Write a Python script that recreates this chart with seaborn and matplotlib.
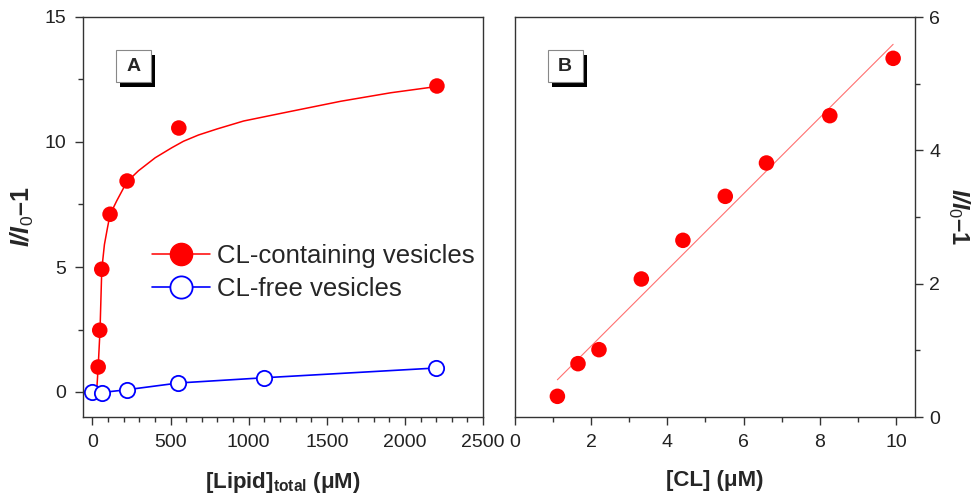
import numpy as np
import pandas as pd
import matplotlib
matplotlib.use('Agg')
import matplotlib.pyplot as plt
import seaborn as sns
from matplotlib.lines import Line2D
from matplotlib.patches import Rectangle
from matplotlib.ticker import MultipleLocator

# panel A: binding data
lipid_cl = [37, 47, 60, 113, 222, 553, 2205]
ratio_cl = [1.0, 2.47, 4.91, 7.11, 8.44, 10.56, 12.24]
lipid_free = [0, 60, 220, 550, 1100, 2200]
ratio_free = [0.0, -0.02, 0.09, 0.36, 0.57, 0.96]

# fitted curve for CL-containing vesicles
fit_x = [27, 37, 49, 60, 77, 96, 113, 156, 220, 295, 402, 508, 583, 679, 797, 968, 1226, 1590, 1910, 2205]
fit_y = [0.0, 1.0, 2.5, 4.9, 5.9, 6.55, 7.1, 7.65, 8.4, 8.85, 9.37, 9.77, 10.03, 10.28, 10.52, 10.84, 11.17, 11.63, 11.97, 12.22]

# panel B: vs [CL]
cl = [1.12, 1.66, 2.21, 3.32, 4.41, 5.52, 6.60, 8.26, 9.92]
ratio_b = [0.31, 0.80, 1.01, 2.07, 2.65, 3.31, 3.81, 4.52, 5.38]

sns.set_style('ticks')
plt.rcParams['font.family'] = ['Liberation Sans', 'DejaVu Sans']
plt.rcParams['mathtext.fontset'] = 'custom'
plt.rcParams['mathtext.rm'] = 'Liberation Sans'
plt.rcParams['mathtext.it'] = 'Liberation Sans:italic'
plt.rcParams['mathtext.bf'] = 'Liberation Sans:bold'
plt.rcParams['mathtext.bfit'] = 'Liberation Sans:bold:italic'

fig = plt.figure(figsize=(9.79, 5), dpi=100)
ax1 = fig.add_axes([0.0848, 0.166, 0.4086, 0.8])
ax2 = fig.add_axes([0.5257, 0.166, 0.4092, 0.8])

red = '#ff0000'
blue = '#0000ff'
ylab = '$\\mathbfit{I/I}_{0}\\mathbf{\u20131}$'

# ---- A
sns.lineplot(x=fit_x, y=fit_y, ax=ax1, color=red, lw=1.1, sort=False, estimator=None)
sns.scatterplot(x=lipid_cl, y=ratio_cl, ax=ax1, color=red, s=125, edgecolor='none', zorder=3)
sns.lineplot(x=lipid_free, y=ratio_free, ax=ax1, color=blue, lw=1.2, marker='o', markersize=11,
             markerfacecolor='white', markeredgecolor=blue, markeredgewidth=1.3, sort=False, estimator=None)

ax1.set_xlim(-60, 2500)
ax1.set_ylim(-1, 15)
ax1.xaxis.set_major_locator(MultipleLocator(500))
ax1.xaxis.set_minor_locator(MultipleLocator(100))
ax1.yaxis.set_major_locator(MultipleLocator(5))
ax1.yaxis.set_minor_locator(MultipleLocator(2.5))
ax1.set_xlabel('[Lipid]$_{\\mathbf{total}}$ (μM)', fontsize=16, fontweight='bold', labelpad=14)
ax1.set_ylabel(ylab, fontsize=18, labelpad=6)

handles = [
    Line2D([], [], color=red, lw=1.1, marker='o', markersize=16, markerfacecolor=red, markeredgecolor=red),
    Line2D([], [], color=blue, lw=1.2, marker='o', markersize=16, markerfacecolor='white',
           markeredgecolor=blue, markeredgewidth=1.3),
]
ax1.legend(handles, ['CL-containing vesicles', 'CL-free vesicles'], loc='upper left',
           bbox_to_anchor=(0.14, 0.465), frameon=False, fontsize=18.5, borderpad=0,
           handlelength=2.25, handletextpad=0.3, labelspacing=0.35)

# ---- B
sns.regplot(x=cl, y=ratio_b, ax=ax2, ci=None, color=red,
            scatter_kws={'s': 125, 'edgecolor': 'none', 'alpha': 1, 'zorder': 3},
            line_kws={'lw': 0.8, 'color': '#ff7070'})
ax2.set_xlim(0, 10.5)
ax2.set_ylim(0, 6)
ax2.xaxis.set_major_locator(MultipleLocator(2))
ax2.xaxis.set_minor_locator(MultipleLocator(1))
ax2.yaxis.set_major_locator(MultipleLocator(2))
ax2.yaxis.set_minor_locator(MultipleLocator(1))
ax2.yaxis.tick_right()
ax2.yaxis.set_label_position('right')
ax2.set_xlabel('[CL] (μM)', fontsize=16, fontweight='bold', labelpad=14)

for ax in (ax1, ax2):
    for sp in ax.spines.values():
        sp.set_visible(True)
        sp.set_color('#333333')
        sp.set_linewidth(1.0)
    ax.tick_params(which='major', length=6, width=1, color='#333333', labelsize=14, labelcolor='#222222', pad=6)
    ax.tick_params(which='minor', length=3.5, width=1, color='#333333')
ax2.tick_params(axis='y', which='major', pad=4)
ax2.set_ylabel(ylab, fontsize=17, rotation=270, va='bottom', labelpad=4)

# panel tags with shadow
for ax, tag in ((ax1, 'A'), (ax2, 'B')):
    ax.add_patch(Rectangle((0.0925, 0.825), 0.0875, 0.08, transform=ax.transAxes,
                           facecolor='black', edgecolor='none', zorder=5))
    ax.add_patch(Rectangle((0.0825, 0.8375), 0.0875, 0.08, transform=ax.transAxes,
                           facecolor='white', edgecolor='#888888', lw=0.8, zorder=6))
    ax.text(0.126, 0.877, tag, transform=ax.transAxes, ha='center', va='center',
            fontsize=14, fontweight='bold', zorder=7)

fig.savefig('out.png', dpi=100)
